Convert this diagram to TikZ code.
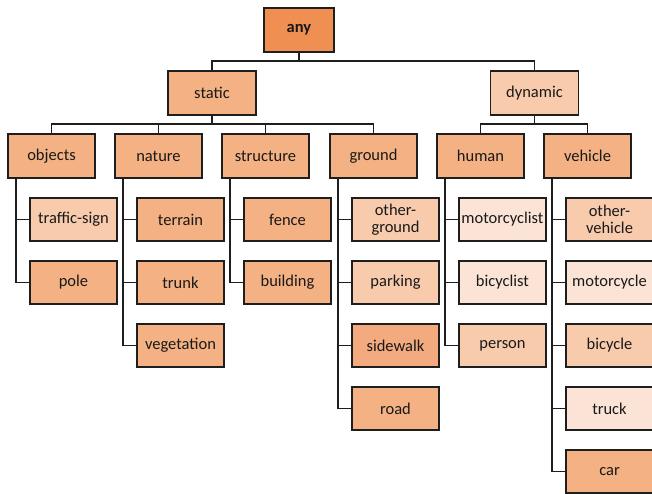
\documentclass[tikz,border=0pt]{standalone}
\usepackage{fontspec}
\setmainfont{Carlito}
\usetikzlibrary{calc}
\definecolor{cany}{HTML}{F08F52}
\definecolor{cmid}{HTML}{F4B183}
\definecolor{cside}{HTML}{F2AA7E}
\definecolor{clight}{HTML}{F8CBAD}
\definecolor{cpale}{HTML}{FBE4D6}
\definecolor{cline}{HTML}{1E1E1E}
\tikzset{
  box/.style={draw=cline, line width=1.6pt, minimum width=87pt, minimum height=43.5pt,
    inner sep=0pt, align=center, text=black!90,
    font=\fontsize{16.5}{17.5}\selectfont},
  mid/.style={box, fill=cmid},
  light/.style={box, fill=clight},
  pale/.style={box, fill=cpale},
  conn/.style={draw=cline, line width=1.5pt},
}
\begin{document}
\begin{tikzpicture}[x=1pt,y=-1pt]
\clip (0,0) rectangle (652,493);
\fill[white] (0,0) rectangle (652,493);
% top
\node[box, fill=cany, minimum width=70pt, minimum height=44.5pt, font=\fontsize{16.5}{17.5}\selectfont\bfseries] (any) at (299,30) {any};
\node[mid, minimum width=88pt] (static) at (212,93) {static};
\node[light, minimum width=88pt] (dynamic) at (534.5,93) {dynamic};
% level 2
\node[mid] (objects) at (51.5,156) {objects};
\node[mid] (nature) at (158.5,156) {nature};
\node[mid] (structure) at (265.5,156) {structure};
\node[mid] (ground) at (373.5,156) {ground};
\node[mid] (human) at (480.5,156) {human};
\node[mid] (vehicle) at (587.5,156) {vehicle};
% level 3
\node[light] (trafficsign) at (73.5,219.5) {traffic-sign};
\node[mid] (pole) at (73.5,282.5) {pole};
\node[mid] (terrain) at (180.5,219.5) {terrain};
\node[mid] (trunk) at (180.5,282.5) {trunk};
\node[mid] (vegetation) at (180.5,345.5) {vegetation};
\node[mid] (fence) at (287.5,219.5) {fence};
\node[mid] (building) at (287.5,282.5) {building};
\node[light] (otherground) at (395.5,219.5) {other-\\ground};
\node[light] (parking) at (395.5,282.5) {parking};
\node[box, fill=cside] (sidewalk) at (395.5,345.5) {sidewalk};
\node[mid] (road) at (395.5,408.5) {road};
\node[pale] (motorcyclist) at (502.5,219.5) {motorcyclist};
\node[pale] (bicyclist) at (502.5,282.5) {bicyclist};
\node[light] (person) at (502.5,345.5) {person};
\node[light] (othervehicle) at (609.5,219.5) {other-\\vehicle};
\node[pale] (motorcycle) at (609.5,282.5) {motorcycle};
\node[light] (bicycle) at (609.5,345.5) {bicycle};
\node[pale] (truck) at (609.5,408.5) {truck};
\node[mid] (car) at (609.5,471.5) {car};
% tree connectors
\coordinate (topbar) at (299,61);
\coordinate (sbar) at (212,124);
\coordinate (dbar) at (534.5,124);
\draw[conn] (any.south) -- (topbar);
\draw[conn] (static.north) -- (static.north |- topbar) -- (dynamic.north |- topbar) -- (dynamic.north);
\draw[conn] (static.south) -- (sbar);
\draw[conn] (objects.north) -- (objects.north |- sbar) -- (ground.north |- sbar) -- (ground.north);
\draw[conn] (nature.north) -- (nature.north |- sbar);
\draw[conn] (structure.north) -- (structure.north |- sbar);
\draw[conn] (dynamic.south) -- (dbar);
\draw[conn] (human.north) -- (human.north |- dbar) -- (vehicle.north |- dbar) -- (vehicle.north);
% side connectors
\foreach \p/\last/\kids in {objects/pole/{trafficsign},
                            nature/vegetation/{terrain,trunk},
                            structure/building/{fence},
                            ground/road/{otherground,parking,sidewalk},
                            human/person/{motorcyclist,bicyclist},
                            vehicle/car/{othervehicle,motorcycle,bicycle,truck}} {
  \coordinate (\p-s) at ($(\p.south west)+(9,0)$);
  \draw[conn] (\p-s) |- (\last.west);
  \foreach \k in \kids {
    \draw[conn] (\p-s |- \k.west) -- (\k.west);
  }
}
\end{tikzpicture}
\end{document}
